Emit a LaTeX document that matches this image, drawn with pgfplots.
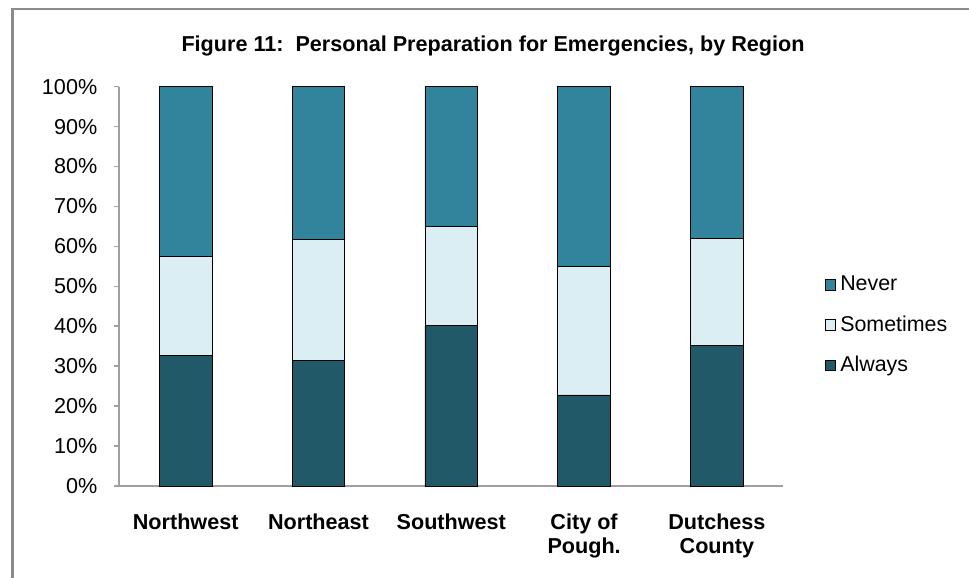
\documentclass[border=0pt]{standalone}
\usepackage{fontspec}
\setmainfont{Liberation Sans}
\usepackage{pgfplots}
\pgfplotsset{compat=1.18}
\definecolor{never}{HTML}{31849B}
\definecolor{sometimes}{HTML}{DAEEF3}
\definecolor{always}{HTML}{215968}
\definecolor{framegray}{HTML}{8C8C8C}
\definecolor{axisgray}{HTML}{A0A0A0}

\begin{document}
\begin{tikzpicture}
\begin{axis}[
    name=ax,
    scale only axis,
    width=332pt, height=199.65pt,
    ybar stacked,
    bar width=26.35pt,
    xmin=-0.5, xmax=4.5,
    ymin=0, ymax=100,
    axis x line*=bottom, axis y line*=left,
    axis line style={draw=axisgray, line width=0.8pt},
    ytick={0,10,...,100},
    yticklabel={\pgfmathprintnumber{\tick}\%},
    yticklabel style={xshift=-5pt},
    y tick style={draw=axisgray, line width=0.8pt},
    tick align=outside,
    major tick length=2.5pt,
    xtick={0,1,2,3,4},
    xticklabels={Northwest, Northeast, Southwest, {City of\\Pough.}, {Dutchess\\County}},
    xticklabel style={font=\bfseries\fontsize{10.8}{12}\selectfont, align=center, yshift=-8pt},
    x tick style={draw=none},
    extra x ticks={-0.5,0.5,1.5,2.5,3.5,4.5},
    extra x tick labels={},
    extra x tick style={tick style={draw=axisgray, line width=0.8pt}},
    font=\fontsize{10.8}{13}\selectfont,
    /pgf/number format/assume math mode=true,
    legend style={at={(1.053,0.547)}, anchor=north west, draw=none, fill=none,
        row sep=7pt, font=\fontsize{10.7}{13}\selectfont,
        /tikz/every even column/.style={column sep=1.5pt}},
    legend cell align=left,
    reverse legend,
    legend image code/.code={\draw[#1,draw=black,line width=0.5pt] (0pt,-2.6pt) rectangle (5.2pt,2.6pt);},
]
\addplot[fill=always, draw=black, line width=0.4pt] coordinates {(0,32.8) (1,31.5) (2,40.1) (3,22.8) (4,35.3)};
\addlegendentry{Always}
\addplot[fill=sometimes, draw=black, line width=0.4pt] coordinates {(0,24.7) (1,30.2) (2,24.8) (3,32.1) (4,26.7)};
\addlegendentry{Sometimes}
\addplot[fill=never, draw=black, line width=0.4pt] coordinates {(0,42.5) (1,38.3) (2,35.1) (3,45.1) (4,38.0)};
\addlegendentry{Never}
\end{axis}
% page and chart frame, relative to the axis' lower left corner
\begin{scope}[shift={(ax.south west)}]
\path[use as bounding box] (-59.65pt,-46pt) rectangle (424.85pt,243pt);
\draw[framegray, line width=1.2pt] (-53.4pt,-46pt) -- (-53.4pt,238.5pt) -- (424.85pt,238.5pt);
\node[font=\bfseries\fontsize{10.8}{13}\selectfont] at (186.85pt,220pt)
  {Figure 11:\ \ Personal Preparation for Emergencies, by Region};
\end{scope}
\end{tikzpicture}
\end{document}
